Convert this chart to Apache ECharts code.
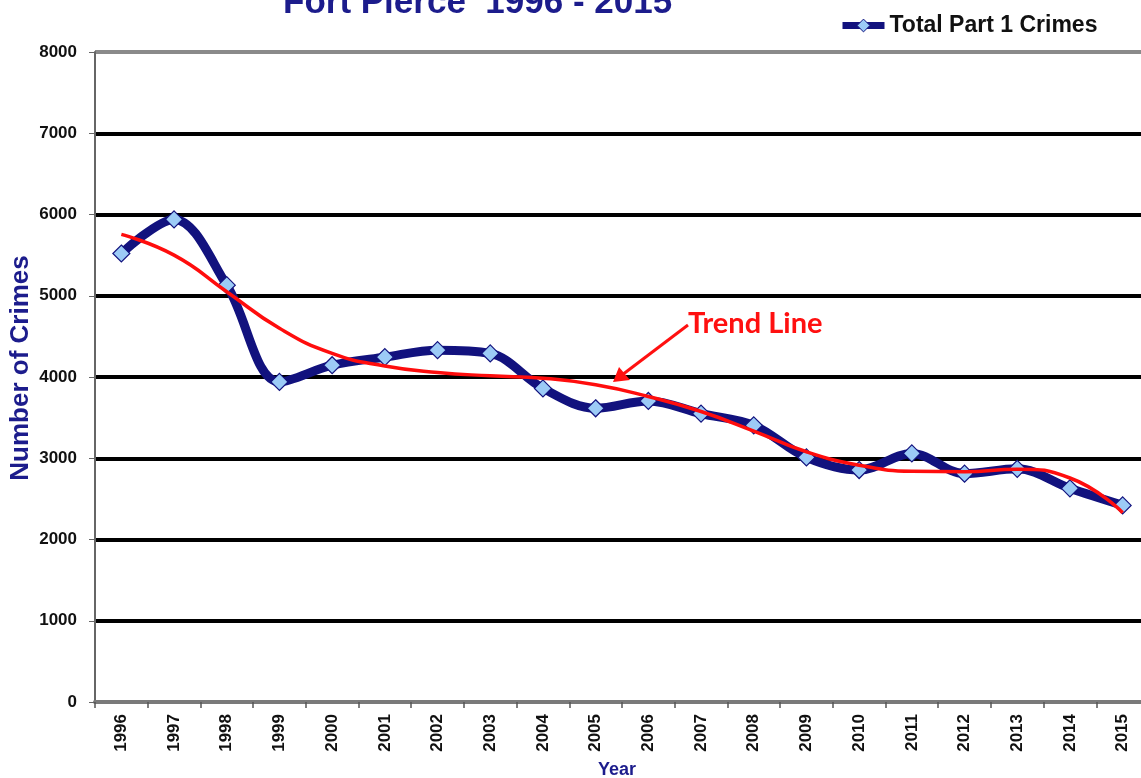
<!DOCTYPE html>
<html>
<head>
<meta charset="utf-8">
<script src="https://cdn.jsdelivr.net/npm/echarts@6/dist/echarts.min.js"></script>
<style>html,body{margin:0;padding:0;background:#fff;}#c{width:1141px;height:778px;}</style>
</head>
<body>
<div id="c"></div>
<script>
const years = ['1996','1997','1998','1999','2000','2001','2002','2003','2004','2005','2006','2007','2008','2009','2010','2011','2012','2013','2014','2015'];
const crimes = [5520,5940,5130,3940,4145,4245,4330,4290,3860,3615,3705,3550,3405,3010,2855,3060,2810,2870,2630,2420];
const trend = [5755,5500,5050,4600,4290,4135,4055,4015,3985,3905,3760,3575,3335,3080,2915,2840,2835,2865,2757,2330];
const yTicks = [0,1000,2000,3000,4000,5000,6000,7000,8000];

const chart = echarts.init(document.getElementById('c'), null, {renderer:'canvas'});
const F = "'Liberation Sans', Arial, sans-serif";
const navy = '#12127e';
chart.setOption({
  backgroundColor:'#fff',
  animation:false,
  title:{
    text:'Fort Pierce  1996 - 2015',
    left:278, top:-19,
    textStyle:{fontFamily:F,fontWeight:'bold',fontSize:35,color:'#1c1c8c'}
  },
  legend:{
    data:['Total Part 1 Crimes'],
    left:834, top:9,
    itemWidth:42, itemHeight:16,
    lineStyle:{width:7,color:navy},
    itemStyle:{color:'#9ccbf6',borderColor:navy,borderWidth:1},
    textStyle:{fontFamily:F,fontWeight:'bold',fontSize:23,color:'#111'}
  },
  grid:{left:95, top:52, width:1054, height:650, containLabel:false, outerBoundsMode:'none'},
  xAxis:{
    type:'category', data:years, boundaryGap:true,
    name:'Year', nameLocation:'middle', nameGap:59, nameMoveOverlap:false,
    nameTextStyle:{fontFamily:F,fontWeight:'bold',fontSize:18,color:'#1c1c8c',padding:[0,0,0,-10]},
    axisLine:{lineStyle:{color:'#7a7a7a',width:4}},
    axisTick:{show:true,interval:0,length:6,lineStyle:{color:'#555',width:1.5}},
    axisLabel:{rotate:90,interval:0,margin:12,fontFamily:F,fontWeight:'bold',fontSize:17,color:'#111'},
    splitLine:{show:false}
  },
  yAxis:{
    type:'value', min:0, max:8000, interval:1000,
    name:'Number of Crimes', nameLocation:'middle', nameGap:61, nameMoveOverlap:false,
    nameTextStyle:{fontFamily:F,fontWeight:'bold',fontSize:26,color:'#1c1c8c',padding:[0,0,0,18]},
    axisLine:{show:true,lineStyle:{color:'#666',width:2}},
    axisTick:{show:true,length:6,lineStyle:{color:'#666',width:1}},
    axisLabel:{margin:18,fontFamily:F,fontWeight:'bold',fontSize:17,color:'#111',
      formatter:v=>yTicks.includes(v)?String(v):''},
    splitLine:{show:true,lineStyle:{width:4,color:['#7a7a7a','#000','#000','#000','#000','#000','#000','#000','#8a8a8a']}}
  },
  series:[
    {
      name:'Total Part 1 Crimes', type:'line', data:crimes, smooth:0.35,
      lineStyle:{color:navy,width:9},
      itemStyle:{color:'#9ccbf6',borderColor:navy,borderWidth:1.2},
      symbol:'diamond', symbolSize:17, showSymbol:true, z:3
    },
    {
      name:'Trend', type:'line', data:trend, smooth:0.5,
      lineStyle:{color:'#ff0d0d',width:3.5},
      symbol:'none', z:4
    }
  ],
  graphic:[
    {type:'text', left:688, top:309, z:10,
     style:{text:'Trend Line', fill:'#ff1010', font:"bold 29px Lato, 'Open Sans', sans-serif"}},
    {type:'line', z:10, shape:{x1:688,y1:325,x2:622,y2:375}, style:{stroke:'#ff1010',lineWidth:3}},
    {type:'polygon', z:10, shape:{points:[[613,382],[619,367],[630,380]]}, style:{fill:'#ff1010'}}
  ]
});
</script>
</body>
</html>
